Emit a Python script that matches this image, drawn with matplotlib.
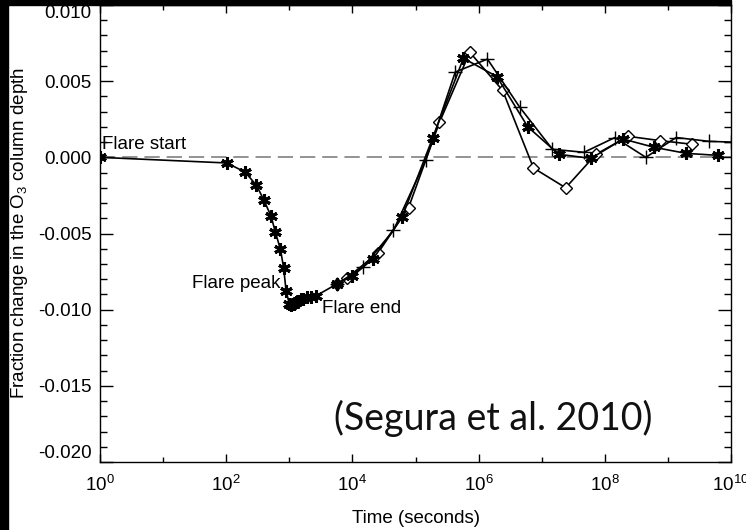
import numpy as np
import matplotlib
matplotlib.use("Agg")
import matplotlib.pyplot as plt
from matplotlib.ticker import FixedLocator, NullFormatter
from matplotlib.patches import Rectangle

plt.rcParams['font.family'] = ['Liberation Sans', 'DejaVu Sans']
plt.rcParams['mathtext.fontset'] = 'custom'
plt.rcParams['mathtext.rm'] = 'Liberation Sans'
plt.rcParams['mathtext.it'] = 'Liberation Sans:italic'
plt.rcParams['lines.scale_dashes'] = False

# ---- data (log10 of time in seconds, fractional change of O3 column) ----
ast_logt = [0.0, 2.01, 2.30, 2.48, 2.60, 2.71, 2.78, 2.86, 2.91, 2.95, 3.00, 3.03, 3.07,
            3.10, 3.14, 3.18, 3.22, 3.28, 3.35, 3.42, 3.76, 4.00, 4.33, 4.79, 5.27,
            5.76, 6.29, 6.78, 7.27, 7.78, 8.29, 8.78, 9.29, 9.79]
ast_val = [0.0, -0.00037, -0.00097, -0.00184, -0.00283, -0.00386, -0.00491, -0.00605,
           -0.00724, -0.0088, -0.0096, -0.0097, -0.0096, -0.0095, -0.0094, -0.0093,
           -0.0093, -0.0092, -0.0092, -0.0091, -0.0083, -0.0078, -0.00665, -0.0039,
           0.00125, 0.0065, 0.0053, 0.0020, 0.0002, -0.00007, 0.0012, 0.00066,
           0.00026, 0.00013]

plus_logt = [3.76, 4.17, 4.65, 5.16, 5.63, 6.14, 6.65, 7.17, 7.67, 8.16, 8.65, 9.13,
             9.65, 10.0]
plus_val = [-0.0083, -0.0072, -0.0048, -0.0002, 0.0056, 0.00645, 0.0033, 0.00053,
            0.00033, 0.0013, 0.0, 0.0013, 0.00105, 0.0010]

dia_logt = [3.76, 3.92, 4.41, 4.89, 5.38, 5.86, 6.38, 6.87, 7.38, 7.86, 8.37, 8.87, 9.38]
dia_val = [-0.0083, -0.0079, -0.00625, -0.0033, 0.0023, 0.0069, 0.0044, -0.0007,
           -0.0020, 0.0002, 0.00138, 0.0011, 0.00086]

xmajor = [1e0, 1e2, 1e4, 1e6, 1e8, 1e10]
xmajor_labels = ['$10^{0}$', '$10^{2}$', '$10^{4}$', '$10^{6}$', '$10^{8}$', '$10^{10}$']
xminor = [1e1, 1e3, 1e5, 1e7, 1e9]
ymajor = [-0.020, -0.015, -0.010, -0.005, 0.000, 0.005, 0.010]
ymajor_labels = ['-0.020', '-0.015', '-0.010', '-0.005', '0.000', '0.005', '0.010']

W, H = 746, 530
fig = plt.figure(figsize=(W / 100, H / 100), dpi=100)
fig.patch.set_facecolor('white')
ax = fig.add_axes([100 / W, (H - 462) / H, (731 - 100) / W, (462 - 5) / H])

ax.set_xscale('log')
ax.set_xlim(1e0, 1e10)
ax.set_ylim(-0.020, 0.010)

ax.axhline(0.0, color='#8a8a8a', lw=1.3, dashes=(11, 5), zorder=1)

lw = 1.2
ax.plot(10 ** np.array(dia_logt), dia_val, color='black', lw=lw, marker='D', ms=6,
        mfc='white', mec='black', mew=1.0, zorder=3)
ax.plot(10 ** np.array(plus_logt), plus_val, color='black', lw=lw, marker='+', ms=10,
        mew=1.0, zorder=3, clip_on=True)
ax.plot(10 ** np.array(ast_logt), ast_val, color='black', lw=lw, marker=(6, 2, 0),
        ms=9, mew=2.2, zorder=4)

ax.xaxis.set_major_locator(FixedLocator(xmajor))
ax.set_xticklabels(xmajor_labels)
ax.xaxis.set_minor_locator(FixedLocator(xminor))
ax.xaxis.set_minor_formatter(NullFormatter())
ax.yaxis.set_major_locator(FixedLocator(ymajor))
ax.set_yticklabels(ymajor_labels)
ax.yaxis.set_minor_locator(FixedLocator(np.arange(-0.020, 0.0105, 0.001)))

ax.tick_params(axis='both', which='both', direction='in', top=True, right=True,
               labelsize=13.5, width=1.0, colors='black')
ax.tick_params(axis='y', which='major', length=9.5, pad=6)
ax.tick_params(axis='y', which='minor', length=5)
ax.tick_params(axis='x', which='major', length=6, pad=9)
ax.tick_params(axis='x', which='minor', length=3.6)

ylabs = ax.get_yticklabels()
ylabs[-1].set_va('top')
ylabs[0].set_va('bottom')

for s in ax.spines.values():
    s.set_linewidth(1.0)

ax.set_xlabel('Time (seconds)', fontsize=13.5, labelpad=11)
ax.set_ylabel('Fraction change in the O$_3$ column depth', fontsize=13.5, labelpad=6)

ax.text(10 ** (2 / 63), 0.00086, 'Flare start', fontsize=13.5, ha='left', va='center')
ax.text(10 ** (180 / 63), -0.0083, 'Flare peak', fontsize=13.5, ha='right', va='center')
ax.text(10 ** (222 / 63), -0.00994, 'Flare end', fontsize=13.5, ha='left', va='center')

fig.text(493 / W, 1 - 418 / H, '(Segura et al. 2010)', fontsize=27,
         family=['Lato', 'DejaVu Sans'], fontweight='normal', color='#111111',
         ha='center', va='center')

# black border strips
fig.patches.append(Rectangle((0, 0), 8 / W, 1, transform=fig.transFigure,
                             color='black', zorder=10))
fig.patches.append(Rectangle((0, 1 - 5 / H), 731 / W, 5 / H, transform=fig.transFigure,
                             color='black', zorder=10))

fig.savefig('out.png', dpi=100, facecolor='white')
